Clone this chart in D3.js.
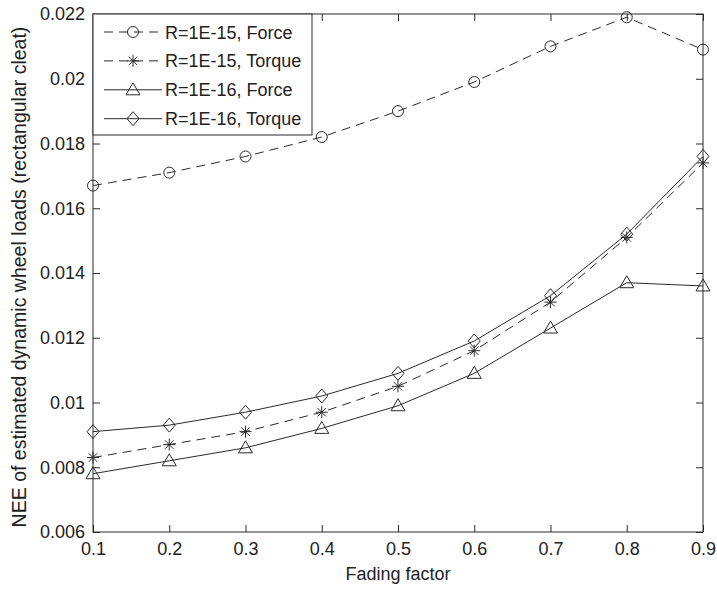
<!DOCTYPE html>
<html>
<head>
<meta charset="utf-8">
<script src="https://cdn.jsdelivr.net/npm/d3@7"></script>
<style>
  body { margin: 0; background: #fff; }
  text { font-family: "Liberation Sans", Arial, sans-serif; fill: #222; }
</style>
</head>
<body>
<svg id="chart" width="717" height="590"></svg>
<script>
// Fading factor vs NEE
var fading = [0.1, 0.2, 0.3, 0.4, 0.5, 0.6, 0.7, 0.8, 0.9];
var force15  = [0.0167, 0.0171, 0.0176, 0.0182, 0.0190, 0.0199, 0.0210, 0.0219, 0.0209];
var torque15 = [0.0083, 0.0087, 0.0091, 0.0097, 0.0105, 0.0116, 0.0131, 0.0151, 0.0174];
var force16  = [0.0078, 0.0082, 0.0086, 0.0092, 0.0099, 0.0109, 0.0123, 0.0137, 0.0136];
var torque16 = [0.0091, 0.0093, 0.0097, 0.0102, 0.0109, 0.0119, 0.0133, 0.0152, 0.0176];
var seriesNames = ["R=1E-15, Force", "R=1E-15, Torque", "R=1E-16, Force", "R=1E-16, Torque"];
var xTicks = [0.1, 0.2, 0.3, 0.4, 0.5, 0.6, 0.7, 0.8, 0.9];
var yTicks = [0.006, 0.008, 0.01, 0.012, 0.014, 0.016, 0.018, 0.02, 0.022];

var series = [
  {name: seriesNames[0], values: force15, marker: "circle", dash: "9,6"},
  {name: seriesNames[1], values: torque15, marker: "star", dash: "9,6"},
  {name: seriesNames[2], values: force16, marker: "triangle", dash: null},
  {name: seriesNames[3], values: torque16, marker: "diamond", dash: null}
];

// plot box (window.top is reserved, so prefix names)
var pLeft = 93, pRight = 703, pTop = 14, pBottom = 532;
var ink = "#2a2a2a";
var fs = 18;

var svg = d3.select("#chart");
var x = d3.scaleLinear().domain([0.1, 0.9]).range([pLeft, pRight]);
var y = d3.scaleLinear().domain([0.006, 0.022]).range([pBottom, pTop]);

// frame
svg.append("rect")
  .attr("x", pLeft).attr("y", pTop)
  .attr("width", pRight - pLeft).attr("height", pBottom - pTop)
  .attr("fill", "none").attr("stroke", ink).attr("stroke-width", 1);

var fmt = function(d) { return String(+d.toFixed(3)); };

// axes with inward ticks
var gx = svg.append("g").attr("transform", "translate(0," + pBottom + ")")
  .call(d3.axisBottom(x).tickValues(xTicks).tickSize(-7).tickPadding(12).tickFormat(fmt));
var gxTop = svg.append("g").attr("transform", "translate(0," + pTop + ")")
  .call(d3.axisTop(x).tickValues(xTicks).tickSize(-7).tickFormat(""));
var gy = svg.append("g").attr("transform", "translate(" + pLeft + ",0)")
  .call(d3.axisLeft(y).tickValues(yTicks).tickSize(-7).tickPadding(14).tickFormat(fmt));
var gyRight = svg.append("g").attr("transform", "translate(" + pRight + ",0)")
  .call(d3.axisRight(y).tickValues(yTicks).tickSize(-7).tickFormat(""));

[gx, gxTop, gy, gyRight].forEach(function(g) {
  g.select(".domain").remove();
  g.selectAll(".tick line").attr("stroke", ink);
  g.selectAll(".tick text").attr("font-size", fs).attr("fill", "#222")
    .attr("font-family", "Liberation Sans, Arial, sans-serif");
});
gy.selectAll(".tick text").attr("dx", 6).attr("dy", "0.32em");
gx.selectAll(".tick text").attr("dy", "0.6em");

// axis titles
svg.append("text").attr("x", (pLeft + pRight) / 2).attr("y", 580)
  .attr("text-anchor", "middle").attr("font-size", fs).text("Fading factor");
svg.append("text").attr("transform", "translate(26,277) rotate(-90)")
  .attr("text-anchor", "middle").attr("font-size", 19.5)
  .text("NEE of estimated dynamic wheel loads (rectangular cleat)");

function drawMarker(g, type, cx, cy) {
  if (type === "circle") {
    g.append("circle").attr("cx", cx).attr("cy", cy).attr("r", 5.5)
      .attr("fill", "none").attr("stroke", ink);
  } else if (type === "triangle") {
    g.append("path").attr("d", "M" + cx + "," + (cy - 7) + "L" + (cx + 7) + "," + (cy + 5) +
        "L" + (cx - 7) + "," + (cy + 5) + "Z")
      .attr("fill", "none").attr("stroke", ink);
  } else if (type === "diamond") {
    g.append("path").attr("d", "M" + cx + "," + (cy - 7) + "L" + (cx + 6) + "," + cy +
        "L" + cx + "," + (cy + 7) + "L" + (cx - 6) + "," + cy + "Z")
      .attr("fill", "none").attr("stroke", ink);
  } else if (type === "star") {
    var r = 6, d = "";
    [0, 45, 90, 135].forEach(function(a) {
      var rad = a * Math.PI / 180;
      d += "M" + (cx - r * Math.cos(rad)) + "," + (cy - r * Math.sin(rad)) +
           "L" + (cx + r * Math.cos(rad)) + "," + (cy + r * Math.sin(rad));
    });
    g.append("path").attr("d", d).attr("stroke", ink).attr("fill", "none");
  }
}

var line = d3.line().x(function(d, i) { return x(fading[i]); }).y(function(d) { return y(d); });

series.forEach(function(s) {
  var g = svg.append("g");
  g.append("path").datum(s.values).attr("d", line)
    .attr("fill", "none").attr("stroke", ink).attr("stroke-width", 1)
    .attr("stroke-dasharray", s.dash);
  s.values.forEach(function(v, i) {
    drawMarker(g, s.marker, x(fading[i]), y(v));
  });
});

// legend
var legend = svg.append("g");
legend.append("rect").attr("x", pLeft).attr("y", pTop).attr("width", 219).attr("height", 121)
  .attr("fill", "#fff").attr("stroke", ink);
series.forEach(function(s, i) {
  var ly = 32 + i * 28.9;
  legend.append("line").attr("x1", 104).attr("x2", 162).attr("y1", ly).attr("y2", ly)
    .attr("stroke", ink).attr("stroke-dasharray", s.dash);
  drawMarker(legend, s.marker, 133, ly);
  legend.append("text").attr("x", 165).attr("y", ly + 6.5).attr("font-size", fs).text(s.name);
});
</script>
</body>
</html>
